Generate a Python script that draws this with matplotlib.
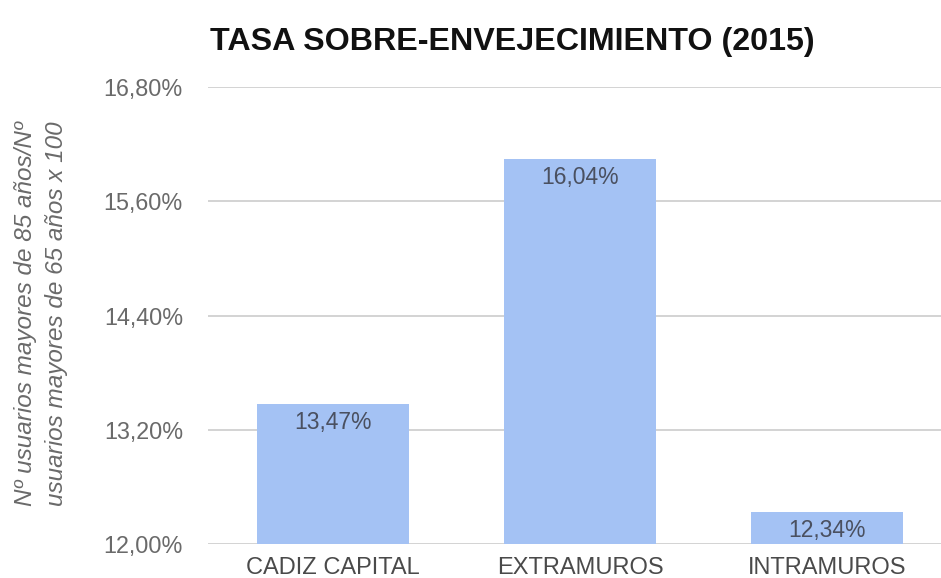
import matplotlib
matplotlib.use("Agg")
import matplotlib.pyplot as plt
from matplotlib.ticker import FuncFormatter

categories = ["CADIZ CAPITAL", "EXTRAMUROS", "INTRAMUROS"]
values = [13.47, 16.04, 12.34]
yticks = [12.0, 13.2, 14.4, 15.6, 16.8]

title = "TASA SOBRE-ENVEJECIMIENTO (2015)"
ylabel = "Nº usuarios mayores de 85 años/Nº\nusuarios mayores de 65 años x 100"

plt.rcParams['font.family'] = ['Liberation Sans', 'DejaVu Sans']

fig = plt.figure(figsize=(9.41, 5.78), dpi=100)
ax = fig.add_axes([0.221, 0.0588, 0.779, 0.7907])

x = list(range(len(categories)))
ax.bar(x, values, width=0.615, color="#a4c2f4", zorder=2)
ax.set_xlim(-0.505, 2.46)
ax.set_ylim(12.0, 16.8)
ax.set_yticks(yticks)
fmt = lambda v: f"{v:.2f}".replace(".", ",") + "%"
ax.yaxis.set_major_formatter(FuncFormatter(lambda v, p: fmt(v)))
ax.set_xticks(x)
ax.set_xticklabels(categories)
ax.grid(axis="y", color="#d0d0d0", linewidth=1.3, zorder=0)
for s in ax.spines.values():
    s.set_visible(False)
ax.tick_params(axis="y", length=0, pad=18, labelsize=16.8, labelcolor="#6a6a6a")
ax.tick_params(axis="x", length=0, pad=9, labelsize=17, labelcolor="#4a4a4a")

for xi, v in zip(x, values):
    ax.annotate(fmt(v), (xi, v), xytext=(0, -5), textcoords="offset points",
                ha="center", va="top", fontsize=16.5, color="#4a5060", zorder=3)

fig.text(0.223, 0.927, title, fontsize=23.2, fontweight="bold", color="#111111",
         ha="left", va="center")
fig.text(0.044, 0.458, ylabel, rotation=90, fontsize=17.5, style="italic",
         color="#6a6a6a", ha="center", va="center", multialignment="center",
         linespacing=1.45)

fig.savefig("out.png", dpi=100)
